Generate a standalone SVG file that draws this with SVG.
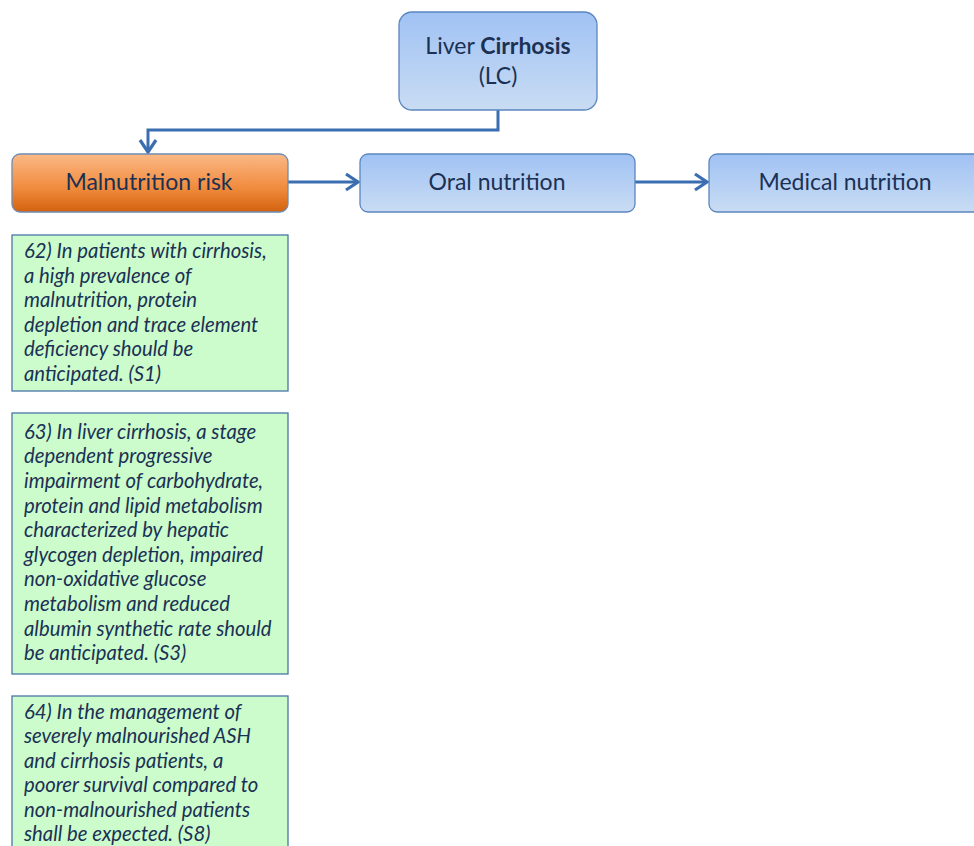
<svg xmlns="http://www.w3.org/2000/svg" width="974" height="846" viewBox="0 0 974 846">
<defs>
<linearGradient id="gBlue" x1="0" y1="0" x2="0" y2="1">
<stop offset="0" stop-color="#a0c2f4"/>
<stop offset="1" stop-color="#c9dcf3"/>
</linearGradient>
<linearGradient id="gOrange" x1="0" y1="0" x2="0" y2="1">
<stop offset="0" stop-color="#fbb986"/>
<stop offset="0.6" stop-color="#f08a3c"/>
<stop offset="1" stop-color="#d2620f"/>
</linearGradient>
<marker id="arr" markerWidth="18" markerHeight="20" refX="14" refY="10" orient="auto" markerUnits="userSpaceOnUse">
<path d="M2,2 L14,10 L2,18" fill="none" stroke="#3a6eb0" stroke-width="3.2" stroke-linejoin="miter"/>
</marker>
</defs>
<style>
.blue{fill:url(#gBlue);stroke:#5a86bf;stroke-width:1.3}
.orange{fill:url(#gOrange);stroke:#6d8cb3;stroke-width:1.3}
.green{fill:#ccfccc;stroke:#4a76a8;stroke-width:1.3}
.lbl{font-family:"Lato","Open Sans","Liberation Sans",sans-serif;font-size:23px;fill:#1b3154;text-anchor:middle}
.txt{font-family:"Lato","Open Sans","Liberation Sans",sans-serif;font-size:20.3px;font-style:italic;fill:#1b3154}
.con{fill:none;stroke:#3a6eb0;stroke-width:3}
</style>
<rect width="974" height="846" fill="#ffffff"/>
<g id="connectors">
<path class="con" d="M498,110 V130 H148 V152" marker-end="url(#arr)"/>
<path class="con" d="M288,182 H358" marker-end="url(#arr)"/>
<path class="con" d="M635,182 H707" marker-end="url(#arr)"/>
</g>
<g id="lc">
<rect class="blue" x="399" y="12" width="198" height="98" rx="13"/>
<text class="lbl" x="498" y="54">Liver <tspan font-weight="bold">Cirrhosis</tspan></text>
<text class="lbl" x="498" y="84">(LC)</text>
</g>
<g id="malnutrition">
<rect class="orange" x="12" y="154" width="276" height="58" rx="8"/>
<text class="lbl" x="149" y="190">Malnutrition risk</text>
</g>
<g id="oral">
<rect class="blue" x="360" y="154" width="275" height="58" rx="8"/>
<text class="lbl" x="497" y="190">Oral nutrition</text>
</g>
<g id="medical">
<rect class="blue" x="709" y="154" width="280" height="58" rx="8"/>
<text class="lbl" x="845" y="190">Medical nutrition</text>
</g>
<g id="s62">
<rect class="green" x="12" y="235" width="276" height="156"/>
<text class="txt" x="24" y="258">62) In patients with cirrhosis,</text>
<text class="txt" x="24" y="283">a high prevalence of</text>
<text class="txt" x="24" y="307">malnutrition, protein</text>
<text class="txt" x="24" y="332">depletion and trace element</text>
<text class="txt" x="24" y="356">deficiency should be</text>
<text class="txt" x="24" y="381">anticipated. (S1)</text>
</g>
<g id="s63">
<rect class="green" x="12" y="413" width="276" height="261"/>
<text class="txt" x="24" y="439">63) In liver cirrhosis, a stage</text>
<text class="txt" x="24" y="463">dependent progressive</text>
<text class="txt" x="24" y="488">impairment of carbohydrate,</text>
<text class="txt" x="24" y="513">protein and lipid metabolism</text>
<text class="txt" x="24" y="537">characterized by hepatic</text>
<text class="txt" x="24" y="562">glycogen depletion, impaired</text>
<text class="txt" x="24" y="586">non-oxidative glucose</text>
<text class="txt" x="24" y="611">metabolism and reduced</text>
<text class="txt" x="24" y="636">albumin synthetic rate should</text>
<text class="txt" x="24" y="660">be anticipated. (S3)</text>
</g>
<g id="s64">
<rect class="green" x="12" y="696" width="276" height="170"/>
<text class="txt" x="24" y="719">64) In the management of</text>
<text class="txt" x="24" y="743">severely malnourished ASH</text>
<text class="txt" x="24" y="768">and cirrhosis patients, a</text>
<text class="txt" x="24" y="792">poorer survival compared to</text>
<text class="txt" x="24" y="817">non-malnourished patients</text>
<text class="txt" x="24" y="841">shall be expected. (S8)</text>
</g>
</svg>
